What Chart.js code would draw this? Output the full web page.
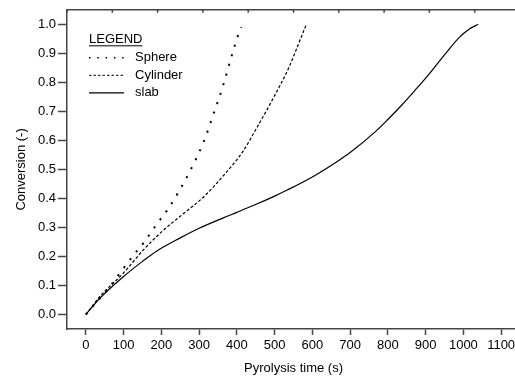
<!DOCTYPE html>
<html>
<head>
<meta charset="utf-8">
<script src="https://cdn.jsdelivr.net/npm/chart.js@4.4.0/dist/chart.umd.min.js"></script>
<style>
	html, body { margin: 0; padding: 0; background: #fff; overflow: hidden; }
	#wrap { width: 520px; height: 379px; }
</style>
</head>
<body>
<div id="wrap"><canvas id="conversionChart" width="520" height="379"></canvas></div>
<script>
// values (time in s, conversion -)
const sphereTime = [0, 30, 57, 90, 123, 156, 187, 218, 245, 280, 311, 338, 363, 388, 402, 412]
const sphereConv = [0, 0.045, 0.085, 0.142, 0.199, 0.252, 0.31, 0.364, 0.421, 0.505, 0.592, 0.69, 0.787, 0.899, 0.958, 0.99]

const cylinderTime = [0, 37, 99, 152, 205, 258, 311, 364, 417, 453, 492, 537, 565, 584]
const cylinderConv = [0, 0.062, 0.142, 0.222, 0.29, 0.347, 0.404, 0.478, 0.564, 0.644, 0.735, 0.849, 0.938, 1.0]

const slabTime = [0, 37, 99, 150, 188, 250, 300, 364, 400, 448, 500, 532, 600, 669, 700, 767, 800, 837, 870, 908, 950, 990, 1015, 1039]
const slabConv = [0, 0.056, 0.13, 0.183, 0.219, 0.264, 0.297, 0.333, 0.352, 0.378, 0.408, 0.428, 0.474, 0.53, 0.558, 0.63, 0.672, 0.722, 0.77, 0.827, 0.895, 0.956, 0.983, 1.0]

const xTicks = [0, 100, 200, 300, 400, 500, 600, 700, 800, 900, 1000, 1100]
const yTicks = [0, 0.1, 0.2, 0.3, 0.4, 0.5, 0.6, 0.7, 0.8, 0.9, 1.0]
const topTicks = [-50, 70, 190, 310, 430, 550, 670, 790, 910, 1030, 1150]

const fontFamily = '"Liberation Sans", Arial, Helvetica, sans-serif'
const axisColor = '#444'

function toPoints(xs, ys) {
	return xs.map((x, i) => ({ x: x, y: ys[i] }))
}

// top frame line with small inward ticks
const frameTop = {
	id: 'frameTop',
	afterDraw(chart) {
		const { ctx, chartArea: a } = chart
		const sx = chart.scales.x
		ctx.save()
		ctx.strokeStyle = axisColor
		ctx.lineWidth = 1.5
		ctx.beginPath()
		ctx.moveTo(a.left, a.top)
		ctx.lineTo(a.right, a.top)
		ctx.moveTo(a.right, a.top)
		ctx.lineTo(a.right, a.bottom)
		topTicks.forEach(v => {
			const px = sx.getPixelForValue(v)
			ctx.moveTo(px, a.top)
			ctx.lineTo(px, a.top + 3)
		})
		ctx.stroke()
		ctx.restore()
	},
}

// legend in the upper left of the plot
const legendBox = {
	id: 'legendBox',
	afterDraw(chart) {
		const { ctx, chartArea: a } = chart
		const x0 = a.left + 22
		const y0 = a.top + 30
		ctx.save()
		ctx.font = '13px ' + fontFamily
		ctx.fillStyle = '#000'
		ctx.textBaseline = 'middle'
		ctx.textAlign = 'left'
		ctx.fillText('LEGEND', x0, y0)
		ctx.fillRect(x0, y0 + 5.5, ctx.measureText('LEGEND').width, 1)
		chart.data.datasets.forEach((ds, i) => {
			const y = y0 + 18 + i * 17.5
			ctx.strokeStyle = ds.borderColor
			ctx.lineWidth = ds.legendWidth
			ctx.setLineDash(ds.legendDash)
			ctx.beginPath()
			ctx.moveTo(x0, y)
			ctx.lineTo(x0 + 35, y)
			ctx.stroke()
			ctx.fillText(ds.label, x0 + 46, y)
		})
		ctx.restore()
	},
}

const ctx = document.getElementById('conversionChart').getContext('2d')

new Chart(ctx, {
	type: 'line',
	data: {
		datasets: [
			{
				label: 'Sphere',
				data: toPoints(sphereTime, sphereConv),
				borderColor: '#000',
				borderWidth: 2,
				borderDash: [2, 8],
				legendDash: [1.5, 6.8],
				legendWidth: 1.5,
			},
			{
				label: 'Cylinder',
				data: toPoints(cylinderTime, cylinderConv),
				borderColor: '#000',
				borderWidth: 1.2,
				borderDash: [3, 2],
				legendDash: [2.5, 2],
				legendWidth: 1,
			},
			{
				label: 'slab',
				data: toPoints(slabTime, slabConv),
				borderColor: '#000',
				borderWidth: 1.2,
				legendDash: [],
				legendWidth: 1.2,
			},
		],
	},
	options: {
		responsive: false,
		animation: false,
		parsing: false,
		elements: {
			point: { radius: 0 },
			line: { tension: 0.4, cubicInterpolationMode: 'monotone' },
		},
		layout: { padding: { top: 7, left: 0, right: 0, bottom: 0 } },
		plugins: {
			legend: { display: false },
			tooltip: { enabled: false },
		},
		scales: {
			x: {
				type: 'linear',
				min: -50,
				max: 1150,
				afterBuildTicks: s => {
					s.ticks = xTicks.map(v => ({ value: v }))
				},
				afterFit: s => {
					s.height = 50
				},
				grid: { drawOnChartArea: false, tickLength: 6, color: axisColor, tickWidth: 1.5 },
				border: { color: axisColor, width: 1.5 },
				ticks: {
					color: '#000',
					font: { family: fontFamily, size: 13 },
					padding: 3,
					maxRotation: 0,
					autoSkip: false,
					callback: v => String(v),
				},
				title: {
					display: true,
					text: 'Pyrolysis time (s)',
					color: '#000',
					font: { family: fontFamily, size: 13 },
					padding: { top: 0, bottom: 3 },
				},
			},
			y: {
				type: 'linear',
				min: -0.05,
				max: 1.05,
				afterBuildTicks: s => {
					s.ticks = yTicks.map(v => ({ value: v }))
				},
				afterFit: s => {
					s.width = 67
				},
				grid: { drawOnChartArea: false, tickLength: 9, color: axisColor, tickWidth: 1.5 },
				border: { color: axisColor, width: 1.5 },
				ticks: {
					color: '#000',
					font: { family: fontFamily, size: 13 },
					padding: 2,
					callback: v => v.toFixed(1),
				},
				title: {
					display: true,
					text: 'Conversion (-)',
					color: '#000',
					font: { family: fontFamily, size: 13 },
					padding: { top: 14, bottom: 0 },
				},
			},
		},
	},
	plugins: [frameTop, legendBox],
})
</script>
</body>
</html>
